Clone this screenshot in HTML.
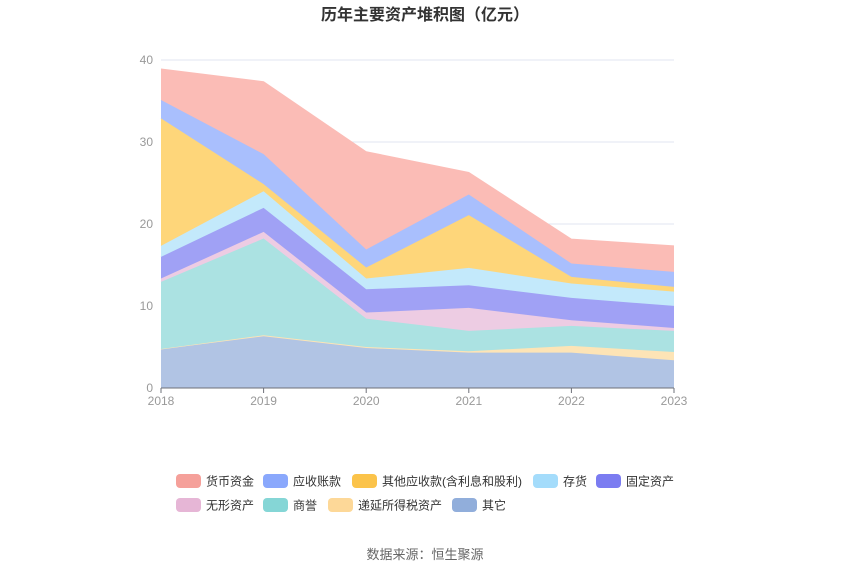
<!DOCTYPE html>
<html><head><meta charset="utf-8"><style>
body{margin:0;background:#fff;font-family:"Liberation Sans","Noto Sans CJK SC",sans-serif;}
svg text{font-family:"Liberation Sans","Noto Sans CJK SC",sans-serif;}
</style></head><body>
<svg id="c" width="850" height="575">
<text x="425" y="20" text-anchor="middle" font-size="16" font-weight="bold" fill="#333">历年主要资产堆积图（亿元）</text>
<g id="grid"></g><g id="areas"></g><g id="axes"></g><g id="legend"></g>
<text x="425" y="559" text-anchor="middle" font-size="13" fill="#666">数据来源：恒生聚源</text>
</svg>
<script>
const years=["2018","2019","2020","2021","2022","2023"];
const yTicks=[0,10,20,30,40];
const sQita=[4.72,6.31,4.88,4.31,4.31,3.38];
const sDiyan=[0.03,0.12,0.12,0.17,0.82,1.01];
const sShangyu=[8.19,11.8,3.46,2.48,2.44,2.57];
const sWuxing=[0.41,0.81,0.74,2.81,0.69,0.36];
const sGuding=[2.64,2.93,2.84,2.76,2.73,2.69];
const sCunhuo=[1.34,2.03,1.31,2.12,1.75,1.75];
const sQitaYs=[15.55,0.86,1.34,6.43,0.81,0.57];
const sYingshou=[2.24,3.66,2.2,2.52,1.63,1.83];
const sHuobi=[3.78,8.83,11.92,2.69,2.97,3.17];
const series=[
["其它",sQita,"#b1c4e4","#91aedb"],
["递延所得税资产",sDiyan,"#fde4b6","#fdd898"],
["商誉",sShangyu,"#abe2e2","#85d6d6"],
["无形资产",sWuxing,"#edcce3","#e6b6d6"],
["固定资产",sGuding,"#a0a1f5","#7b7cf1"],
["存货",sCunhuo,"#c3e9fb","#a4dcfb"],
["其他应收款(含利息和股利)",sQitaYs,"#fed67a","#fbc34a"],
["应收账款",sYingshou,"#a9bffd","#8aa8fc"],
["货币资金",sHuobi,"#fbbcb6","#f5a09a"]];
const NS="http://www.w3.org/2000/svg";
const X0=161,X1=674,Y0=388,Y1=60,YMAX=40;
const xs=i=>X0+(X1-X0)*i/(years.length-1);
const ys=v=>Y0-(Y0-Y1)*v/YMAX;
function mk(t,a,p){const e=document.createElementNS(NS,t);for(const k in a)e.setAttribute(k,a[k]);p.appendChild(e);return e;}
const grid=document.getElementById('grid'),axes=document.getElementById('axes'),areas=document.getElementById('areas'),leg=document.getElementById('legend');
yTicks.forEach(t=>{
 if(t>0){const l=mk('line',{x1:X0,x2:X1,y1:ys(t),y2:ys(t),stroke:'#e0e6f1'},grid);
 
 }
 const tx=mk('text',{x:X0-8,y:ys(t)+4,'text-anchor':'end','font-size':12,fill:'#999'},axes);tx.textContent=t;
 
 
});
let base=years.map(()=>0);
series.forEach((s,si)=>{
 const top=base.map((b,i)=>b+s[1][i]);
 let d='M'+years.map((_,i)=>xs(i)+','+ys(top[i])).join('L');
 for(let i=years.length-1;i>=0;i--)d+='L'+xs(i)+','+ys(base[i]);
 d+='Z';
 const p=mk('path',{d:d,fill:s[2],stroke:'none'},areas);
 
 
 const ln=mk('polyline',{points:years.map((_,i)=>xs(i)+','+ys(top[i])).join(' '),fill:'none',stroke:s[2],'stroke-width':1},areas);
 
 
 base=top;
});
mk('line',{x1:X0,x2:X1,y1:Y0,y2:Y0,stroke:'#6e7079'},axes);
years.forEach((y,i)=>{
 mk('line',{x1:xs(i),x2:xs(i),y1:Y0,y2:Y0+5,stroke:'#6e7079'},axes);
 const t=mk('text',{x:xs(i),y:Y0+17,'text-anchor':'middle','font-size':12,fill:'#999'},axes);t.textContent=y;
 
 
});
const legPos=[[176,481,8],[263,481,7],[352,481,6],[533,481,5],[596,481,4],[176,505,3],[263,505,2],[328,505,1],[452,505,0]];
legPos.forEach(([x,y,si])=>{
 const s=series[si];
 const g=mk('g',{},leg);
 
 
 mk('rect',{x:x,y:y-7,width:25,height:14,rx:4,fill:s[3]},g);
 const t=mk('text',{x:x+30,y:y+4.5,'font-size':12,fill:'#333'},g);t.textContent=s[0];
});
</script>
</body></html>
